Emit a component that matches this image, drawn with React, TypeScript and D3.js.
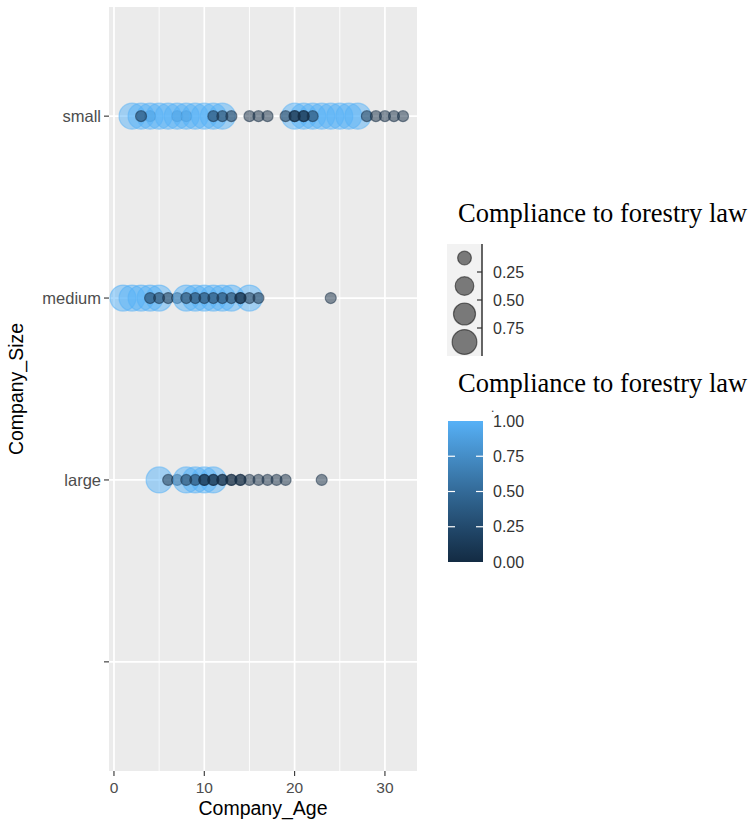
import React from 'react';
import * as d3 from 'd3';

// categories on the y axis (top to bottom), last one is blank in the source data
const sizeLevels = ['small', 'medium', 'large', ''];

// company age + compliance (0..1) per point, in drawing order
const smallAge = [4, 7, 8, 2, 3, 4, 5, 6, 7, 8, 9, 10, 11, 12, 3, 11, 12, 13, 15, 16, 17, 20, 21, 22, 23, 24, 25, 26, 27, 19, 20, 20, 21, 21, 22, 28, 29, 30, 31, 32];
const smallComp = [0, 0, 0, 1, 1, 1, 1, 1, 1, 1, 1, 1, 1, 1, 0, 0, 0, 0, 0, 0, 0, 1, 1, 1, 1, 1, 1, 1, 1, 0, 0, 0, 0, 0, 0, 0, 0, 0, 0, 0];

const mediumAge = [1, 2, 3, 4, 5, 4, 5, 6, 7, 8, 9, 10, 11, 12, 13, 15, 8, 9, 10, 11, 12, 13, 14, 14, 15, 16, 24];
const mediumComp = [1, 1, 1, 1, 1, 0, 0, 0, 0, 1, 1, 1, 1, 1, 1, 1, 0, 0, 0, 0, 0, 0, 0, 0, 0, 0, 0];

const largeAge = [5, 6, 7, 8, 9, 10, 11, 8, 9, 10, 10, 11, 11, 12, 12, 13, 13, 14, 14, 15, 16, 17, 18, 19, 23];
const largeComp = [1, 0, 0, 1, 1, 1, 1, 0, 0, 0, 0, 0, 0, 0, 0, 0, 0, 0, 0, 0, 0, 0, 0, 0, 0];

const xTicks = [0, 10, 20, 30];
const xMinor = [5, 15, 25];
const sizeBreaks = [0.25, 0.5, 0.75];
const sizeKeys = [0.125, 0.375, 0.625, 0.875];
const colourBreaks = [0, 0.25, 0.5, 0.75, 1];

const points = [
  ...smallAge.map((a, i) => ({ size: 'small', age: a, comp: smallComp[i] })),
  ...mediumAge.map((a, i) => ({ size: 'medium', age: a, comp: mediumComp[i] })),
  ...largeAge.map((a, i) => ({ size: 'large', age: a, comp: largeComp[i] })),
];

const LOW = '#132B43';
const HIGH = '#56B1F7';
const sans = '"Liberation Sans", Arial, sans-serif';
const serif = '"Liberation Serif", "Times New Roman", serif';

export default function App() {
  const width = 749;
  const height = 823;
  const panel = { left: 109, right: 417, top: 7, bottom: 771 };

  const ext = d3.extent(points, d => d.age) as [number, number];
  const pad = (ext[1] - ext[0]) * 0.05;
  const x = d3.scaleLinear().domain([ext[0] - pad, ext[1] + pad]).range([panel.left, panel.right]);
  const y = d3.scalePoint<string>().domain(sizeLevels).range([panel.top, panel.bottom]).padding(0.6);

  const colour = d3.scaleLinear<string>().domain([0, 1]).range([LOW, HIGH]).interpolate(d3.interpolateLab);
  const radius = d3.scaleSqrt().domain([0, 1]).range([5.5, 13]);

  // size legend
  const keyRadius = d3.scaleSqrt().domain([0, 1]).range([3.5, 13]);
  const keyBand = d3.scaleBand<number>().domain(sizeKeys).range([244, 356]);
  const keyBox = { left: 447, right: 482 };

  // colour bar
  const barY = d3.scaleLinear().domain([0, 1]).range([562, 421]);
  const bar = { left: 448, right: 483 };

  const tickCol = '#4D4D4D';

  return (
    <svg width={width} height={height} style={{ position: 'absolute', left: 0, top: 0, background: '#fff' }}>
      <defs>
        <linearGradient id="cbar" x1="0" y1="1" x2="0" y2="0">
          {d3.range(0, 1.001, 0.1).map(t => (
            <stop key={t} offset={`${t * 100}%`} stopColor={colour(t)} />
          ))}
        </linearGradient>
      </defs>

      {/* panel */}
      <rect x={panel.left} y={panel.top} width={panel.right - panel.left} height={panel.bottom - panel.top} fill="#EBEBEB" />
      {xMinor.map(t => (
        <line key={'mx' + t} x1={x(t)} x2={x(t)} y1={panel.top} y2={panel.bottom} stroke="#fff" strokeWidth={0.9} />
      ))}
      {xTicks.map(t => (
        <line key={'gx' + t} x1={x(t)} x2={x(t)} y1={panel.top} y2={panel.bottom} stroke="#fff" strokeWidth={1.7} />
      ))}
      {sizeLevels.map(l => (
        <line key={'gy' + l} x1={panel.left} x2={panel.right} y1={y(l)} y2={y(l)} stroke="#fff" strokeWidth={1.7} />
      ))}

      {points.map((p, i) => (
        <circle
          key={i}
          cx={x(p.age)}
          cy={y(p.size)}
          r={radius(p.comp)}
          fill={colour(p.comp)}
          fillOpacity={0.5}
          stroke={colour(p.comp)}
          strokeOpacity={0.5}
          strokeWidth={1.2}
        />
      ))}

      {/* y axis */}
      {sizeLevels.map(l => (
        <g key={'ty' + l}>
          <line x1={panel.left - 5} x2={panel.left} y1={y(l)} y2={y(l)} stroke="#333" strokeWidth={1.1} />
          <text x={panel.left - 8} y={y(l)} dy="0.35em" textAnchor="end" fontFamily={sans} fontSize={16.5} fill={tickCol}>
            {l}
          </text>
        </g>
      ))}
      {/* x axis */}
      {xTicks.map(t => (
        <g key={'tx' + t}>
          <line x1={x(t)} x2={x(t)} y1={panel.bottom} y2={panel.bottom + 5} stroke="#333" strokeWidth={1.1} />
          <text x={x(t)} y={panel.bottom + 22} textAnchor="middle" fontFamily={sans} fontSize={15.5} fill={tickCol}>
            {t}
          </text>
        </g>
      ))}
      <text x={(panel.left + panel.right) / 2} y={815} textAnchor="middle" fontFamily={sans} fontSize={19.5} fill="#000">
        Company_Age
      </text>
      <text
        transform={`translate(23,${(panel.top + panel.bottom) / 2}) rotate(-90)`}
        textAnchor="middle"
        fontFamily={sans}
        fontSize={19.5}
        fill="#000"
      >
        Company_Size
      </text>

      {/* size legend */}
      <text x={458} y={222} fontFamily={serif} fontSize={26.5} fill="#000">
        Compliance to forestry law
      </text>
      <rect x={keyBox.left} y={keyBand.range()[0]} width={keyBox.right - keyBox.left} height={keyBand.range()[1] - keyBand.range()[0]} fill="#F2F2F2" />
      {sizeKeys.map(k => (
        <circle
          key={'sk' + k}
          cx={(keyBox.left + keyBox.right) / 2}
          cy={(keyBand(k) as number) + keyBand.bandwidth() / 2}
          r={keyRadius(k)}
          fill="#000"
          fillOpacity={0.5}
          stroke="#000"
          strokeOpacity={0.5}
          strokeWidth={1.2}
        />
      ))}
      <line x1={keyBox.right} x2={keyBox.right} y1={keyBand.range()[0]} y2={keyBand.range()[1]} stroke="#333" strokeWidth={1.5} />
      {sizeBreaks.map((b, i) => {
        const yy = (keyBand(sizeKeys[i + 1]) as number);
        return (
          <g key={'sb' + b}>
            <line x1={keyBox.right - 5} x2={keyBox.right} y1={yy} y2={yy} stroke="#333" strokeWidth={1.2} />
            <text x={493} y={yy} dy="0.35em" fontFamily={sans} fontSize={16} fill="#333">
              {b.toFixed(2)}
            </text>
          </g>
        );
      })}

      {/* colour legend */}
      <text x={458} y={392} fontFamily={serif} fontSize={26.5} fill="#000">
        Compliance to forestry law
      </text>
      <text x={491} y={412} fontFamily={sans} fontSize={12} fill="#333">.</text>
      <rect x={bar.left} y={barY(1)} width={bar.right - bar.left} height={barY(0) - barY(1)} fill="url(#cbar)" />
      {colourBreaks.map(b => (
        <g key={'cb' + b}>
          {b > 0 && b < 1 && (
            <>
              <line x1={bar.left} x2={bar.left + 7} y1={barY(b)} y2={barY(b)} stroke="#fff" strokeWidth={1.2} />
              <line x1={bar.right - 7} x2={bar.right} y1={barY(b)} y2={barY(b)} stroke="#fff" strokeWidth={1.2} />
            </>
          )}
          <text x={493} y={barY(b)} dy="0.35em" fontFamily={sans} fontSize={16} fill="#333">
            {b.toFixed(2)}
          </text>
        </g>
      ))}
    </svg>
  );
}
